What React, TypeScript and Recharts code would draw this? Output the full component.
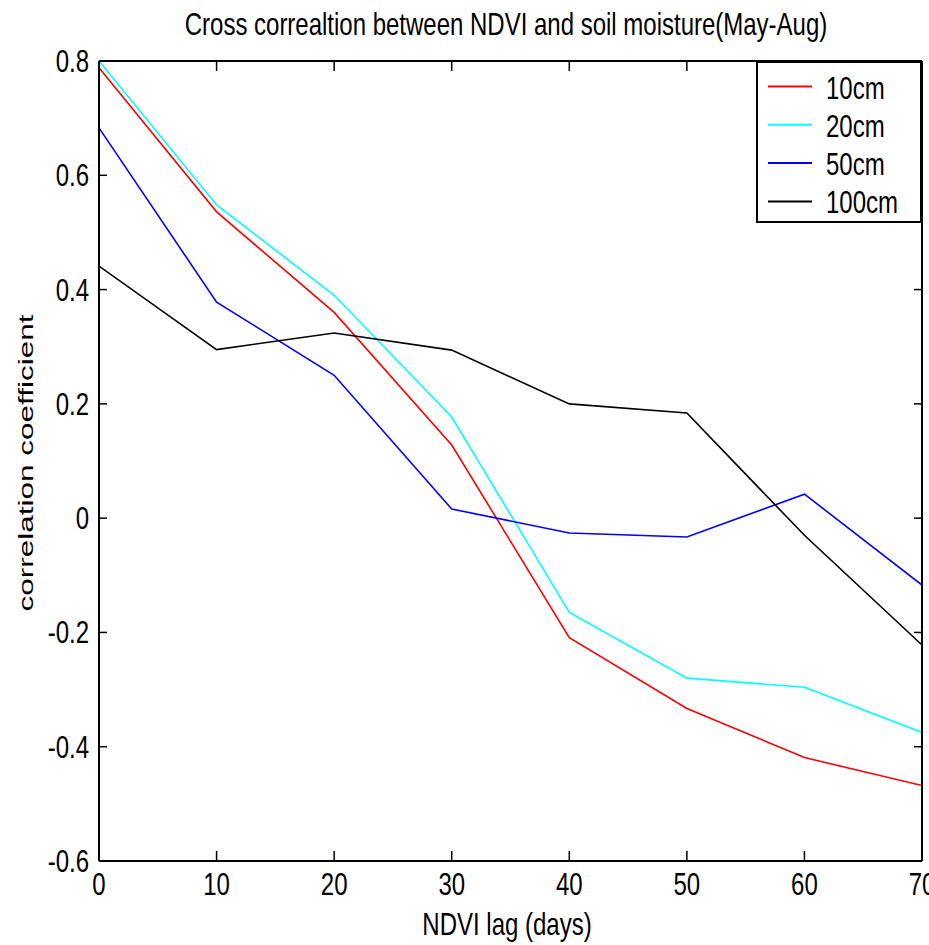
import { LineChart, Line, XAxis, YAxis, Legend } from 'recharts';

const lags = [0, 10, 20, 30, 40, 50, 60, 70];
const cm10 = [0.788, 0.536, 0.36, 0.128, -0.209, -0.333, -0.419, -0.468];
const cm20 = [0.8, 0.548, 0.39, 0.177, -0.165, -0.28, -0.296, -0.375];
const cm50 = [0.683, 0.378, 0.25, 0.016, -0.026, -0.033, 0.042, -0.117];
const cm100 = [0.441, 0.295, 0.324, 0.294, 0.2, 0.184, -0.03, -0.222];

const xTicks = [0, 10, 20, 30, 40, 50, 60, 70];
const yTicks = [-0.6, -0.4, -0.2, 0, 0.2, 0.4, 0.6, 0.8];

const series = [
  { key: 'cm10', name: '10cm', color: '#ff0000' },
  { key: 'cm20', name: '20cm', color: '#00ffff' },
  { key: 'cm50', name: '50cm', color: '#0000ff' },
  { key: 'cm100', name: '100cm', color: '#000000' },
];

const rows = lags.map((lag, i) => ({
  lag,
  cm10: cm10[i],
  cm20: cm20[i],
  cm50: cm50[i],
  cm100: cm100[i],
}));

const FONT = '"Liberation Sans", Arial, sans-serif';

// matlab export is stretched vertically, so text gets a scaleY
function Txt({ x, y, anchor = 'start', size = 24, sy = 1.28, children }: any) {
  return (
    <text
      transform={`translate(${x},${y}) scale(1,${sy})`}
      textAnchor={anchor}
      fontSize={size}
      fontFamily={FONT}
      fill="#000"
    >
      {children}
    </text>
  );
}

const fmtY = (v: number) => (v === 0 ? '0' : v.toFixed(1));

function BottomTick({ x, y, payload }: any) {
  return (
    <g>
      <line x1={x} y1={y} x2={x} y2={y - 10} stroke="#000" strokeWidth={1.5} />
      <Txt x={x} y={y + 34} anchor="middle">{payload.value}</Txt>
    </g>
  );
}

function TopTick({ x, y }: any) {
  return <line x1={x} y1={y} x2={x} y2={y + 10} stroke="#000" strokeWidth={1.5} />;
}

function LeftTick({ x, y, payload }: any) {
  return (
    <g>
      <line x1={x} y1={y} x2={x + 8} y2={y} stroke="#000" strokeWidth={1.5} />
      <Txt x={x - 10} y={y + 11} anchor="end">{fmtY(payload.value)}</Txt>
    </g>
  );
}

function RightTick({ x, y }: any) {
  return <line x1={x} y1={y} x2={x - 8} y2={y} stroke="#000" strokeWidth={1.5} />;
}

function LegendBox() {
  return (
    <svg width={166} height={162} style={{ display: 'block' }}>
      <rect x={1} y={1} width={164} height={160} fill="#fff" stroke="#000" strokeWidth={2} />
      {series.map((s, i) => {
        const cy = 25.5 + i * 38.3;
        return (
          <g key={s.key}>
            <line x1={12} y1={cy} x2={56} y2={cy} stroke={s.color} strokeWidth={2} />
            <Txt x={70} y={cy + 12}>{s.name}</Txt>
          </g>
        );
      })}
    </svg>
  );
}

export default function App() {
  return (
    <div style={{ position: 'absolute', left: 0, top: 0, width: 929, height: 945, background: '#fff' }}>
      <LineChart
        width={929}
        height={945}
        data={rows}
        margin={{ top: 60, right: 6, bottom: 83, left: 98 }}
      >
        <XAxis
          xAxisId="b"
          dataKey="lag"
          type="number"
          domain={[0, 70]}
          ticks={xTicks}
          interval={0}
          allowDataOverflow
          height={1}
          tickSize={0}
          tickMargin={0}
          tickLine={false}
          axisLine={{ stroke: '#000', strokeWidth: 2 }}
          tick={<BottomTick />}
        />
        <XAxis
          xAxisId="t"
          orientation="top"
          dataKey="lag"
          type="number"
          domain={[0, 70]}
          ticks={xTicks}
          interval={0}
          allowDataOverflow
          height={1}
          tickSize={0}
          tickMargin={0}
          tickLine={false}
          axisLine={{ stroke: '#000', strokeWidth: 2 }}
          tick={<TopTick />}
        />
        <YAxis
          yAxisId="l"
          type="number"
          domain={[-0.6, 0.8]}
          ticks={yTicks}
          interval={0}
          allowDataOverflow
          width={1}
          tickSize={0}
          tickMargin={0}
          tickLine={false}
          axisLine={{ stroke: '#000', strokeWidth: 2 }}
          tick={<LeftTick />}
        />
        <YAxis
          yAxisId="r"
          orientation="right"
          type="number"
          domain={[-0.6, 0.8]}
          ticks={yTicks}
          interval={0}
          allowDataOverflow
          width={1}
          tickSize={0}
          tickMargin={0}
          tickLine={false}
          axisLine={{ stroke: '#000', strokeWidth: 2 }}
          tick={<RightTick />}
        />
        {series.map((s) => (
          <Line
            key={s.key}
            xAxisId="b"
            yAxisId="l"
            type="linear"
            dataKey={s.key}
            name={s.name}
            stroke={s.color}
            strokeWidth={1.6}
            dot={false}
            isAnimationActive={false}
          />
        ))}
        <Legend
          layout="horizontal"
          verticalAlign="middle"
          align="center"
          wrapperStyle={{ left: 756, top: 61, width: 166, height: 162 }}
          content={() => <LegendBox />}
        />
      </LineChart>
      <svg width={929} height={945} style={{ position: 'absolute', left: 0, top: 0, pointerEvents: 'none' }}>
        <Txt x={506} y={35} anchor="middle">Cross correaltion between NDVI and soil moisture(May-Aug)</Txt>
        <Txt x={507} y={935} anchor="middle">NDVI lag (days)</Txt>
        <text
          transform="translate(33,463) rotate(-90) scale(1.5,1)"
          textAnchor="middle"
          fontSize={21}
          fontFamily={FONT}
          fill="#000"
        >
          correlation coefficient
        </text>
      </svg>
    </div>
  );
}
